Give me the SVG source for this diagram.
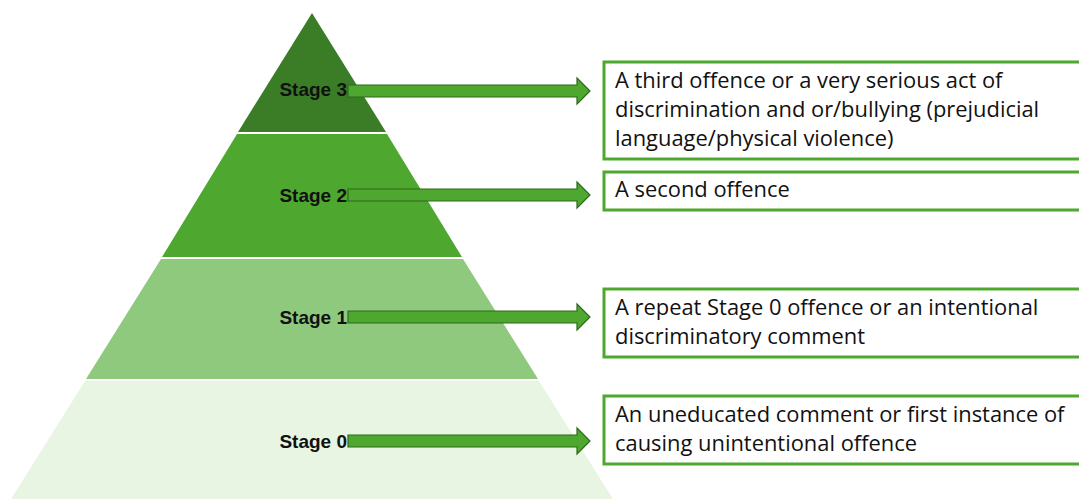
<svg xmlns="http://www.w3.org/2000/svg" width="1079" height="499" viewBox="0 0 1079 499">
<style>
.lbl{font-family:"Liberation Sans",Arial,sans-serif;font-weight:bold;font-size:19px;fill:#111;text-anchor:end}
.txt{font-family:"Open Sans","Liberation Sans",Arial,sans-serif;font-size:21.9px;fill:#111}
.box{fill:#fff;stroke:#4ea72e;stroke-width:3}
.arr{fill:#4ea72e;stroke:#2d6a1d;stroke-width:1.2}
</style>
<defs>
<path id="arrow" d="M0,-6 H229 V-13 L242,0 L229,13 V6 H0 Z"/>
</defs>
<rect width="1079" height="499" fill="#fff"/>
<g id="pyramid">
<polygon id="layer3" points="312,13 386,132 238,132" fill="#3b7d27"/>
<polygon id="layer2" points="237,134 387,134 462,257 162,257" fill="#4ea72e"/>
<polygon id="layer1" points="161,259 463,259 538,379 86,379" fill="#8fc97d"/>
<polygon id="layer0" points="85,381 539,381 613,499 11,499" fill="#e8f5e3"/>
</g>
<g id="labels">
<text class="lbl" x="347" y="96">Stage 3</text>
<text class="lbl" x="347" y="202">Stage 2</text>
<text class="lbl" x="347" y="324">Stage 1</text>
<text class="lbl" x="347" y="448">Stage 0</text>
</g>
<g id="connectors">
<use href="#arrow" class="arr" x="348" y="91"/>
<use href="#arrow" class="arr" x="348" y="195"/>
<use href="#arrow" class="arr" x="348" y="317"/>
<use href="#arrow" class="arr" x="348" y="441"/>
</g>
<g id="box3">
<rect class="box" x="604" y="62" width="480" height="97"/>
<text class="txt" x="615" y="88">A third offence or a very serious act of</text>
<text class="txt" x="615" y="117">discrimination and or/bullying (prejudicial</text>
<text class="txt" x="615" y="146">language/physical violence)</text>
</g>
<g id="box2">
<rect class="box" x="604" y="172" width="480" height="38"/>
<text class="txt" x="615" y="197">A second offence</text>
</g>
<g id="box1">
<rect class="box" x="604" y="289" width="480" height="68"/>
<text class="txt" x="615" y="315">A repeat Stage 0 offence or an intentional</text>
<text class="txt" x="615" y="344">discriminatory comment</text>
</g>
<g id="box0">
<rect class="box" x="604" y="396" width="480" height="68"/>
<text class="txt" x="615" y="422">An uneducated comment or first instance of</text>
<text class="txt" x="615" y="451">causing unintentional offence</text>
</g>
</svg>
